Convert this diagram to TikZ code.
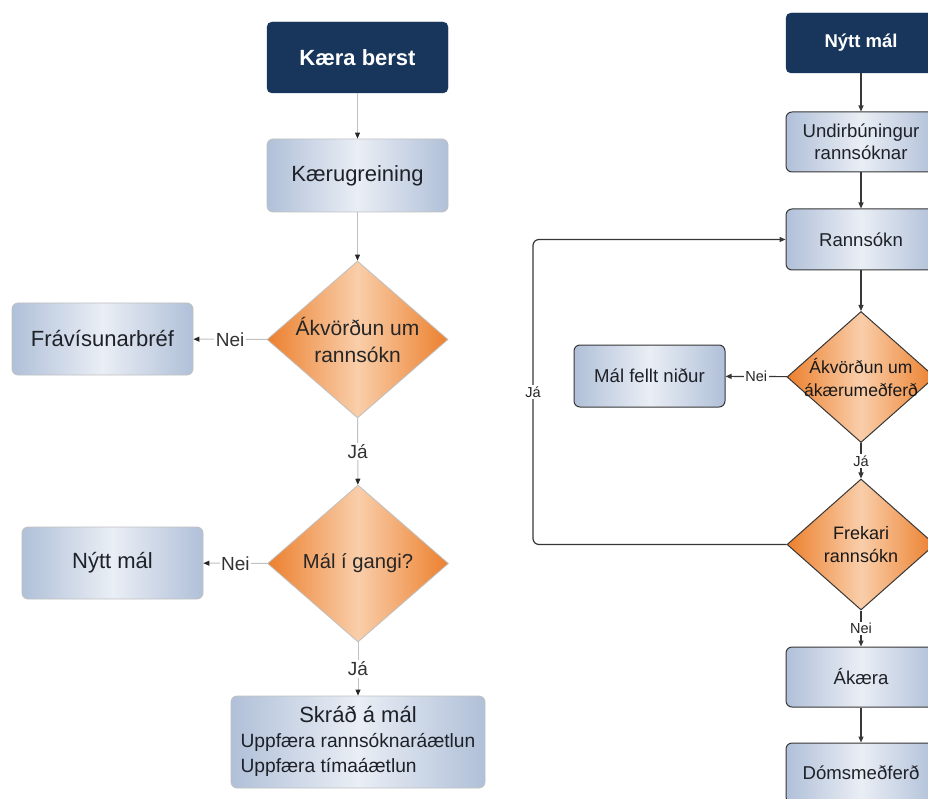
\documentclass[tikz,border=0pt]{standalone}
\usepackage{fontspec}
\setmainfont{Liberation Sans}
\usetikzlibrary{shapes.geometric,arrows.meta}
\definecolor{navy}{RGB}{24,54,92}
\definecolor{boxedge}{RGB}{176,192,216}
\definecolor{boxmid}{RGB}{234,238,245}
\definecolor{orgedge}{RGB}{236,128,46}
\definecolor{orgmid}{RGB}{249,206,170}
\definecolor{lline}{RGB}{192,192,192}
\definecolor{rline}{RGB}{55,55,55}
\definecolor{txt}{RGB}{30,33,40}
\newcommand\fsz[2]{\fontsize{#1}{#2}\selectfont}
\begin{document}
\begin{tikzpicture}[x=1pt,y=-1pt,
  every node/.style={inner sep=0pt,text=txt},
  navybox/.style={draw=navy,fill=navy,rounded corners=5pt,text=white},
  shadebox/.style={left color=boxedge,right color=boxedge,middle color=boxmid},
  shadedia/.style={diamond,left color=orgedge,right color=orgedge,middle color=orgmid},
  lbox/.style={shadebox,draw=lline,line width=0.8pt,rounded corners=6pt,minimum width=181pt,minimum height=72pt,font=\fsz{22}{26}},
  ldia/.style={shadedia,draw=lline,line width=0.8pt,minimum width=181pt,minimum height=157pt},
  rbox/.style={shadebox,draw=rline,line width=1pt,rounded corners=6pt,minimum width=150pt,minimum height=60pt,font=\fsz{18.6}{22}},
  rdia/.style={shadedia,draw=rline,line width=1pt,minimum width=148pt,minimum height=131pt},
  ltext/.style={font=\fsz{21}{27},align=center,text=black!85},
  rtext/.style={font=\fsz{17.5}{23},align=center,text=black!90},
  larr/.style={draw=lline,line width=1pt,-{Triangle[length=6pt,width=5pt,color=black!85]}},
  rarr/.style={draw=rline,line width=1.2pt,-{Triangle[length=6pt,width=5pt]}},
  lab/.style={fill=white,inner sep=1.5pt,font=\fsz{19}{22},text=black!80},
  rlab/.style={fill=white,inner sep=1.5pt,font=\fsz{14.5}{17},text=black!85}]
\clip (0,0) rectangle (928,799);
% ---- left flow ----
\node[navybox,minimum width=181pt,minimum height=71pt,font=\bfseries\fsz{22}{26}] (k1) at (357.5,57.5) {Kæra berst};
\node[lbox,minimum height=73pt] (k2) at (357.5,175.5) {Kærugreining};
\node[ldia,label={[ltext]center:{Ákvörðun um\\rannsókn}}] (d1) at (357.5,339.5) {};
\node[lbox] (fr) at (102.5,339) {Frávísunarbréf};
\node[ldia,label={[ltext,font=\fsz{20.2}{24}]center:{Mál í gangi?}}] (d2) at (358,563.5) {};
\node[lbox] (nm) at (112.5,563) {Nýtt mál};
\node[lbox,minimum width=254pt,minimum height=92pt,font=\fsz{19.2}{25}] (sk) at (358,742)
  {\begin{tabular}{@{}l@{}}\multicolumn{1}{@{}c@{}}{\fsz{22}{25}Skráð á mál}\\ Uppfæra rannsóknaráætlun\\ Uppfæra tímaáætlun\end{tabular}};
\draw[larr] (k1) -- (k2);
\draw[larr] (k2) -- (d1);
\draw[larr] (d1) -- node[lab]{Nei} (fr);
\draw[larr] (d1) -- node[lab]{Já} (d2);
\draw[larr] (d2) -- node[lab]{Nei} (nm);
\draw[larr] (d2) -- node[lab]{Já} (sk);
% ---- right flow ----
\node[navybox,minimum width=150pt,minimum height=60pt,font=\bfseries\fsz{18.5}{22}] (rn) at (861,43) {Nýtt mál};
\node[rbox,align=center] (ru) at (861,142) {Undirbúningur\\rannsóknar};
\node[rbox,minimum height=61pt] (rr) at (861,239.5) {Rannsókn};
\node[rdia,label={[rtext]center:{Ákvörðun um\\ákærumeðferð}}] (rd1) at (861,377) {};
\node[rbox,minimum width=151pt,minimum height=62pt] (mf) at (649.5,376) {Mál fellt niður};
\node[rdia,label={[rtext,font=\fsz{18}{23}]center:{Frekari\\rannsókn}}] (rd2) at (861,544.5) {};
\node[rbox] (ak) at (861,677) {Ákæra};
\node[rbox] (dm) at (861,773) {Dómsmeðferð};
\coordinate (loopx) at (533,0);
\draw[rarr] (rn) -- (ru);
\draw[rarr] (ru) -- (rr);
\draw[rarr] (rr) -- (rd1);
\draw[rarr] (rd1) -- node[rlab]{Nei} (mf);
\draw[rarr] (rd1) -- node[rlab]{Já} (rd2);
\draw[rarr] (rd2) -- node[rlab]{Nei} (ak);
\draw[rarr] (ak) -- (dm);
\draw[rarr,rounded corners=6pt] (rd2.west) -- (rd2.west -| loopx) -- node[rlab,pos=0.5]{Já} (rr.west -| loopx) -- (rr.west);
\end{tikzpicture}
\end{document}
